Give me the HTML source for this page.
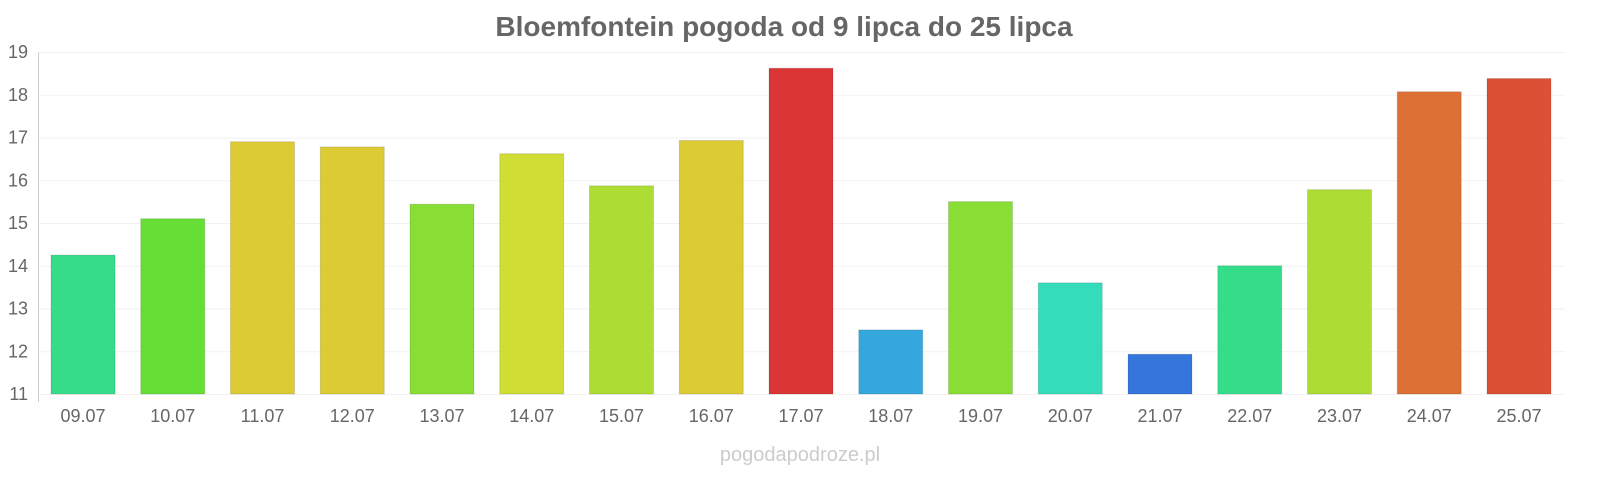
<!DOCTYPE html>
<html><head><meta charset="utf-8"><style>
body{margin:0;background:#fff;width:1600px;height:480px;overflow:hidden;font-family:"Liberation Sans",sans-serif}
</style></head><body>
<svg id="chart" width="1600" height="480" xmlns="http://www.w3.org/2000/svg">
<text x="784" y="36" text-anchor="middle" font-size="28" font-weight="bold" fill="#666">Bloemfontein pogoda od 9 lipca do 25 lipca</text>
<g id="grid"></g><g id="bars"></g><g id="xlabels"></g><g id="ylabels"></g>
<line x1="38.5" y1="52" x2="38.5" y2="402" stroke="#ccc"/>
<text x="800" y="461" text-anchor="middle" font-size="20" fill="#ccc">pogodapodroze.pl</text>
</svg>
<script>
const categories=["09.07","10.07","11.07","12.07","13.07","14.07","15.07","16.07","17.07","18.07","19.07","20.07","21.07","22.07","23.07","24.07","25.07"];
const values=[14.25,15.1,16.9,16.78,15.44,16.62,15.87,16.93,18.62,12.5,15.5,13.6,11.93,14.0,15.78,18.07,18.38];
const colors=["#35dc8a","#65de35","#dccb35","#dccb35","#88de35","#cfdd35","#addd35","#dccb35","#dc3535","#35a7dc","#88de35","#35dcbc","#3576dc","#35dc8a","#addd35","#dc7035","#dc5035"];
const yTicks=[11,12,13,14,15,16,17,18,19];
const NS="http://www.w3.org/2000/svg";
const y=v=>394-(v-11)*42.75;
const x=i=>83+i*89.75;
function mk(t,a,p){const e=document.createElementNS(NS,t);for(const k in a)e.setAttribute(k,a[k]);p.appendChild(e);return e;}
const g=document.getElementById('grid'),yl=document.getElementById('ylabels');
yTicks.forEach(t=>{
 const l=mk('line',{x1:38,x2:1565,y1:y(t)+0.5,y2:y(t)+0.5,stroke:'#f2f2f2'},g);
 
 
 const tx=mk('text',{x:28,y:y(t)+6,'text-anchor':'end','font-size':18,fill:'#666'},yl);
 tx.textContent=t;
 
 
});
const b=document.getElementById('bars'),xl=document.getElementById('xlabels');
categories.forEach((c,i)=>{
 const r=mk('rect',{x:x(i)-32,y:y(values[i]),width:64,height:394-y(values[i]),fill:colors[i],stroke:'rgba(0,0,0,0.12)'},b);
 
 
 const tx=mk('text',{x:x(i),y:422,'text-anchor':'middle','font-size':18,fill:'#666'},xl);
 tx.textContent=c;
 
 
});
</script>
</body></html>
